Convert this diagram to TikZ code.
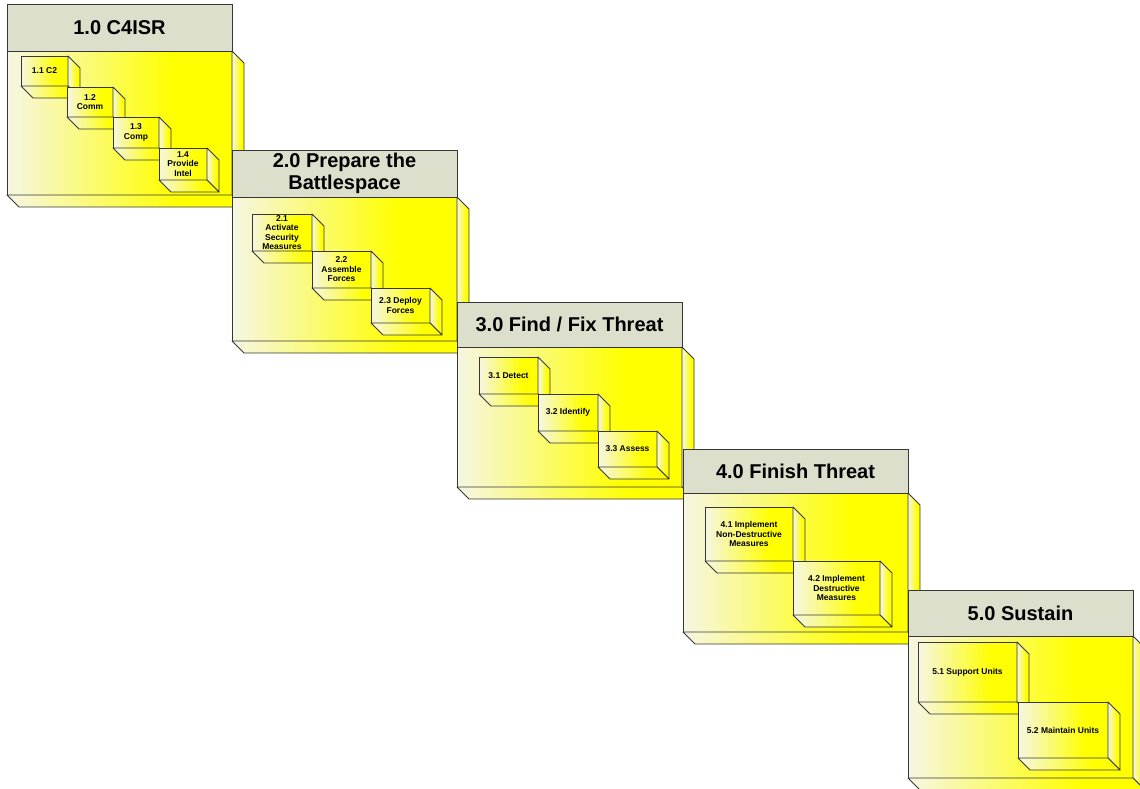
\documentclass[tikz,border=0pt]{standalone}
\usepackage{fontspec}
\setmainfont{Liberation Sans}
\usepackage{tikz}
\usetikzlibrary{calc}
\definecolor{headgray}{RGB}{221,223,205}
\definecolor{facecream}{RGB}{246,246,228}
\definecolor{faceyellow}{RGB}{255,255,0}
\definecolor{edgegray}{RGB}{55,55,55}
\pgfdeclarehorizontalshading{creamyellow}{100bp}{color(0bp)=(facecream); color(25bp)=(facecream); color(62bp)=(faceyellow); color(100bp)=(faceyellow)}
\newcommand{\pkgdepth}{12}
\newcommand{\boxdepth}{12}
% side and bottom face behind a front face node
\newcommand{\extrude}[2]{%
  \shadedraw[face] (#1.north east) -- ++(#2,#2) -- ($(#1.south east)+(#2,#2)$) -- (#1.south east) -- cycle;
  \shadedraw[face] (#1.south west) -- (#1.south east) -- ++(#2,#2) -- ($(#1.south west)+(#2,#2)$) -- cycle;}
% name, left, top, header height, body height, title
\newcommand{\actpackage}[6]{%
  \node[pkghead, minimum height=#4pt] (#1) at (#2,#3) {#6};
  \node[pkgbody, minimum height=#5pt] (#1body) at (#1.south west) {};
  \extrude{#1body}{\pkgdepth}}
% name, left, top, width, height, text
\newcommand{\actbox}[6]{%
  \node[actface, minimum width=#4pt, minimum height=#5pt] (#1) at (#2,#3) {#6};
  \extrude{#1}{\boxdepth}}
\tikzset{
  face/.style={shading=creamyellow, draw=edgegray, line width=0.8pt, line join=round},
  pkghead/.style={anchor=north west, draw=edgegray, fill=headgray, line width=0.8pt, minimum width=225pt, inner sep=0pt, outer sep=0pt, align=center, font=\fontsize{20}{22}\selectfont\bfseries},
  pkgbody/.style={anchor=north west, shade, face, minimum width=225pt, inner sep=0pt, outer sep=0pt},
  actface/.style={anchor=north west, shade, face, inner sep=0pt, outer sep=0pt, align=center, font=\fontsize{8.5}{9.5}\selectfont\bfseries}
}
\begin{document}
\begin{tikzpicture}[x=1pt,y=-1pt]
\useasboundingbox (0,0) rectangle (1140,788);
% 1.0
\actpackage{p1}{7}{4}{47}{144}{1.0 C4ISR}
\actbox{b11}{21}{56}{47}{30}{1.1 C2}
\actbox{b12}{67}{87}{46}{30}{1.2\\Comm}
\actbox{b13}{113}{117}{46}{31}{1.3\\Comp}
\actbox{b14}{159}{148}{48}{32}{1.4\\Provide\\Intel}
% 2.0
\actpackage{p2}{232}{150}{47}{144}{2.0 Prepare the\\Battlespace}
\actbox{b21}{252}{214}{60}{37}{2.1\\Activate\\Security\\Measures}
\actbox{b22}{312}{251}{59}{37}{2.2\\Assemble\\Forces}
\actbox{b23}{371}{288}{59}{35}{2.3 Deploy\\Forces}
% 3.0
\actpackage{p3}{457}{302}{45}{140}{3.0 Find / Fix Threat}
\actbox{b31}{479}{357}{59}{37}{3.1 Detect}
\actbox{b32}{538}{394}{60}{37}{3.2 Identify}
\actbox{b33}{598}{431}{59}{36}{3.3 Assess}
% 4.0
\actpackage{p4}{683}{449}{44}{139}{4.0 Finish Threat}
\actbox{b41}{705}{507}{88}{54}{4.1 Implement\\Non-Destructive\\Measures}
\actbox{b42}{793}{561}{87}{54}{4.2 Implement\\Destructive\\Measures}
% 5.0
\actpackage{p5}{908}{590}{46}{142}{5.0 Sustain}
\actbox{b51}{918}{642}{99}{60}{5.1 Support Units}
\actbox{b52}{1018}{702}{90}{56}{5.2 Maintain Units}
\end{tikzpicture}
\end{document}
